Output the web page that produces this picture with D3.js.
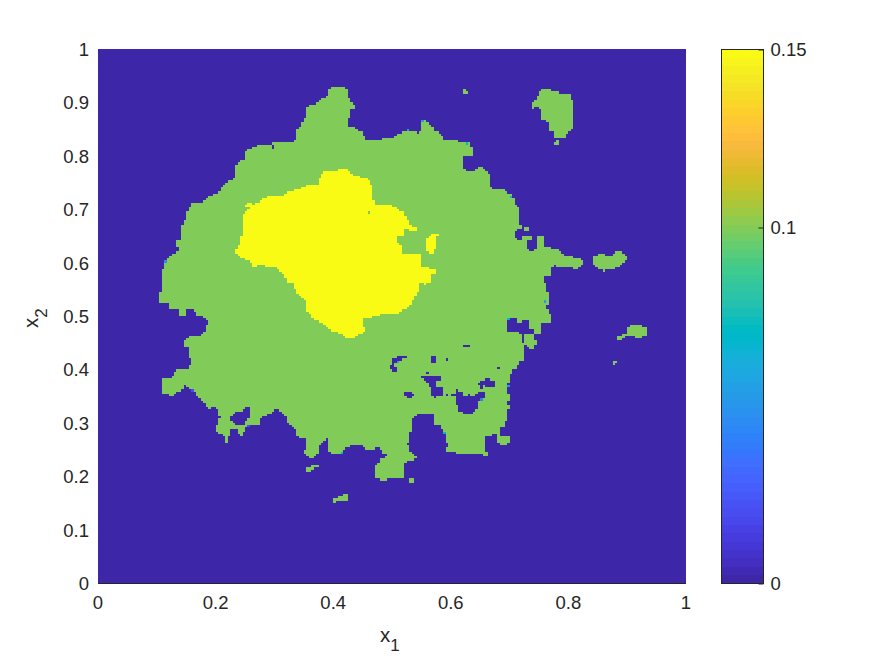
<!DOCTYPE html>
<html><head><meta charset="utf-8">
<script src="https://cdn.jsdelivr.net/npm/d3@7"></script>
<style>html,body{margin:0;padding:0;background:#fff}svg{display:block}text{font-family:"Liberation Sans",Arial,sans-serif;fill:#262626}</style>
</head><body><div id="c"></div>
<script>
// Colormap (parula, 64 levels)
const parula=[[.2422,.1504,.6603],[.2504,.165,.7076],[.2578,.1818,.7511],[.2647,.1978,.7952],[.2706,.2147,.8364],[.2751,.2342,.871],[.2783,.2559,.8991],[.2803,.2782,.9221],[.2813,.3006,.9414],[.281,.3228,.9579],[.2795,.3447,.9717],[.276,.3667,.9829],[.2699,.3892,.9906],[.2602,.4123,.9952],[.244,.4358,.9988],[.2206,.4603,.9973],[.1963,.4847,.9892],[.1834,.5074,.9798],[.1786,.5289,.9682],[.1764,.5499,.952],[.1687,.5703,.9359],[.154,.5902,.9218],[.146,.6091,.9079],[.138,.6276,.8973],[.1248,.6459,.8883],[.1113,.6635,.8763],[.0952,.6798,.8598],[.0689,.6948,.8394],[.0297,.7082,.8163],[.0036,.7203,.7917],[.0067,.7312,.766],[.0433,.7411,.7394],[.0964,.75,.712],[.1408,.7584,.6842],[.1717,.767,.6554],[.1938,.7758,.6251],[.2161,.7843,.5923],[.247,.7918,.5567],[.2906,.7973,.5188],[.3406,.8008,.4789],[.3909,.8029,.4354],[.4456,.8024,.3909],[.5044,.7993,.348],[.5616,.7942,.3045],[.6174,.7876,.2612],[.672,.7793,.2227],[.7242,.7698,.191],[.7738,.7598,.1646],[.8203,.7498,.1535],[.8634,.7406,.1596],[.9035,.733,.1774],[.9393,.7288,.21],[.9728,.7298,.2394],[.9956,.7434,.2371],[.997,.7659,.2199],[.9952,.7861,.199],[.9892,.8134,.176],[.9786,.8386,.1626],[.9676,.8639,.1489],[.961,.889,.1537],[.9597,.9135,.1423],[.9628,.9373,.1265],[.9691,.9606,.1064],[.9769,.9839,.0805]];

// Axis ticks
const xTicks=[0,.2,.4,.6,.8,1];
const yTicks=[0,.1,.2,.3,.4,.5,.6,.7,.8,.9,1];
const cbTicks=[0,.1,.15];

// Field levels
const LOW=0, MID=.1, HIGH=.15;

// Region outlines, as [x1,x2] in units of 1/294 and 1/267 of the unit square
const traceX=294, traceY=267;
const midMain=[[31,145],[32,146.5],[32,155],[33.5,160.5],[37.5,165],[40.5,165.5],[40.5,168.5],[39,168.5],[39,171.5],[42,171.5],[42,179],[43.5,181.5],[45,186.5],[47,190.5],[53,190.5],[55,193],[60,195.5],[63.5,200],[68,202.5],[69,208.5],[71,211.5],[73.5,212],[73.5,215.5],[78,218],[81.5,219],[86.5,219],[86.5,220],[97.5,220],[99,221.5],[99,225.5],[101.5,229],[103.5,232.5],[104.5,237.5],[106,239],[109.5,240],[112,242],[114.5,243],[116,248],[122,248],[124.5,247],[125.5,243],[126.5,240.5],[129,239],[129,237.5],[126.5,237],[126.5,232.5],[125.5,232.5],[125.5,228.5],[127.5,228],[130,226.5],[132.5,225],[133.5,221.5],[134.5,221],[142.5,221],[142.5,222],[148.5,222],[148.5,224],[152,225.5],[158.5,226],[159,225],[161,225],[162,230.5],[163.5,231],[167,229],[168,226],[170.5,225.5],[172.5,222.5],[173.5,221],[179.5,221],[179.5,219],[180.5,220],[186.5,220],[186.5,218],[187.5,218],[187.5,214.5],[186.5,213.5],[182,213.5],[182,210],[183,207],[185,205.5],[188.5,205.5],[190,208.5],[192,208],[194,206.5],[195.5,205],[196.5,198],[198,197],[202.5,197],[205,195],[207,195],[208,190.5],[209.5,188.5],[210.5,188.5],[210.5,180],[211.5,179.5],[211.5,177.5],[209.5,176],[208,175],[208,173],[209.5,171.5],[211.5,171.5],[211.5,173],[213,174],[216.5,174],[216.5,171.5],[214.5,171.5],[214.5,167.5],[216.5,165.5],[219.5,167.5],[222.5,168.5],[226.5,167.5],[229.5,166.5],[232,164.5],[233,163.5],[238,163.5],[238.5,162.5],[241,162.5],[242.5,161],[242.5,159],[239.5,158],[239.5,157],[238,157],[238,158],[229,158],[228,159],[226.5,158],[226.5,154],[223,153],[223,151],[224.5,150],[224.5,146.5],[225.5,144.5],[225.5,142],[224.5,138],[225.5,135],[226.5,135],[226.5,130],[222,130],[222,126.5],[221,124.5],[217.5,124.5],[218.5,123.5],[218.5,121.5],[219.5,121],[219.5,119.5],[217.5,119],[217.5,116.5],[215,117.5],[213,120],[213,111.5],[210.5,111],[209.5,107],[207,106],[206,104.5],[205,99],[205,95],[206,92.5],[205,91.5],[205,89],[206,89],[206,87.5],[205,87],[205,81.5],[203.5,81],[203.5,77.5],[201.5,77.5],[201.5,75],[200,74.5],[193.5,73.5],[193.5,66],[195,65],[194,63],[192,64],[190,65],[186.5,64],[183,65],[182,64],[179.5,64],[178.5,65.5],[175,66],[173.5,65],[173.5,67],[175,67.5],[175,70],[173.5,70],[173.5,75],[172.5,76.5],[171.5,78.5],[168,78.5],[168,80.5],[167,82.5],[168,84],[164,84],[160,85],[158.5,83],[156.5,81],[156.5,76.5],[155.5,75],[155.5,70],[154,69.5],[155.5,69],[155.5,66],[159,63.5],[159,62.5],[157,61],[155.5,62],[153,60],[153,52.5],[145,52.5],[145,51.5],[140.5,51.5],[140.5,52.5],[139,52.5],[139,56.5],[138,57.5],[139,59.5],[140.5,60],[140.5,62.5],[142.5,62.5],[144,64],[142,65],[141.5,67],[140.5,68],[138,68],[138,67],[134.5,67],[132.5,68],[131,69],[127,69],[124.5,67.5],[122.5,67],[121,65],[116,65],[115,66],[115,69],[116,70],[115,72.5],[114,72.5],[114,71],[111.5,70.5],[110.5,68],[110.5,65.5],[109.5,64],[107.5,62.5],[106,62.5],[103.5,64],[103.5,67],[104.5,67],[104.5,71],[103.5,72.5],[99,73],[99,76.5],[97,78],[95.5,79],[94.5,80.5],[94.5,83.5],[93,84],[91,86],[88.5,87],[87,85],[84,83.5],[81.5,82.5],[80.5,79.5],[76,78.5],[73.5,77.5],[72.5,75],[71.5,73.5],[70,74.5],[70,76.5],[66.5,76.5],[66.5,75],[65.5,73],[65.5,70],[64.5,70],[63.5,71.5],[63.5,73],[62,74.5],[61,75],[58.5,75.5],[58.5,78],[60,79],[60,81.5],[61,82.5],[60,84],[60,87],[57.5,88],[56.5,87],[54,88],[53,90.5],[51,92.5],[48.5,95],[48.5,96],[45.5,97],[43.5,98.5],[41.5,96.5],[39,95],[38,93.5],[35.5,93],[35.5,94.5],[32,94.5],[32,102.5],[37,102.5],[38,105.5],[39.5,107],[45,107],[45,109],[46,109.5],[46,112],[45,112.5],[45,117.5],[42.5,119],[42.5,120.5],[44.5,122.5],[47,123.5],[50.5,123.5],[52.5,125],[54,127],[54,129],[55,130],[54,131.5],[52,133],[49.5,133],[48.5,135],[48,137],[45,137],[43.5,135.5],[43.5,134],[40.5,134],[40.5,137],[35.5,137],[35.5,139.5],[33.5,140.5],[31,140.5]];
const midIslandNE=[[216.5,240],[218.5,241.5],[219.5,243.5],[221,245.5],[222,247],[226.5,247],[227,246],[230,246],[230,245],[236,245],[236,241],[237,241],[238,239],[238,229],[237,226.5],[236,225.5],[234.5,225],[234.5,223],[228,223],[228,225.5],[225.5,226.5],[225.5,228],[224.5,230.5],[222,231.5],[222,236.5],[219.5,238],[217.5,239],[217.5,237.5],[216.5,237.5]];
const midIslandE=[[247.5,163.5],[249.5,163.5],[249.5,164.5],[254,164.5],[254,163.5],[255.5,163],[256.5,163],[259,165.5],[262.5,165.5],[262.5,164.5],[264.5,163.5],[264.5,161.5],[262.5,160],[262.5,159],[259,158],[259,157],[254,157],[254,156],[252,156],[252,157],[249.5,157],[248.5,159],[247.5,159.5]];
const midIslandSE=[[260,123.5],[262.5,123.5],[262.5,124.5],[264.5,124.5],[264.5,128],[266,129],[271.5,129],[271.5,128],[274,128],[275,126],[275,124.5],[272.5,123.5],[272.5,122.5],[268,122.5],[268,123.5],[264.5,123.5],[262.5,122.5],[262.5,121.5],[260,121.5]];
const midIslandS1=[[104.5,55.5],[104.5,57.5],[106,57.5],[106,58.5],[108,58.5],[108,59.5],[109,59.5],[109,58.5],[110.5,58.5],[110.5,57.5],[108,57.5],[107,56.5],[107,55.5]];
const midIslandS2=[[117.5,40],[117.5,42],[119.5,42],[119.5,43],[121,43],[122,44],[122,45],[125.5,45],[125.5,42],[124.5,41],[118.5,41],[118.5,40]];
const midCape=[[200,74.5],[201.5,74.5],[201.5,73.5],[205,73.5],[206,72.5],[206,71],[205,70.5],[205,69],[201.5,69],[200,70.5]];
const midSpecks=[[[228,219],[228,220],[229,220],[229,221],[230,221],[230,219]],[[182,245],[182,246],[183,246],[183,247],[184,247],[184,246],[185,246],[185,245]],[[257.5,111],[260,111],[260,110.5],[259,110],[259,109],[257.5,109]],[[213,176],[215,176],[215,177.5],[213,177.5]],[[219.5,167.5],[223,167.5],[223,173],[219.5,173]],[[156,50],[158,50],[158,52],[156,52]]];

const lowHoles=[
[[205,125.5],[205,131],[206,131],[206,132],[209.5,132],[209.5,130],[211.5,130],[211.5,131],[215,131],[215,128],[217.5,126.5],[218.5,125.5],[217.5,124.5],[213,124.5],[213,120],[211.5,121.5],[211.5,124],[210.5,124.5],[210.5,125.5]],
[[146,107],[146,109],[147.5,109],[147.5,112],[149.5,112],[149.5,113],[153,113],[153,114],[154,114],[154,112],[152,112],[152,111],[149,110.5],[148.5,109],[149.5,107],[149.5,106],[147.5,106],[147.5,107]],
[[167,110],[169,110],[169,113],[167,113]],
[[173.5,111],[175,111],[175,112],[173.5,112]],
[[183,117.5],[186.5,117.5],[186.5,119.5],[183,119.5]],
[[200,107],[201.5,107],[201.5,108],[200,108]],
[[164.5,104.5],[165.5,104.5],[165.5,106],[164.5,106]],
[[160,101.5],[161,101.5],[161,102.5],[160,102.5]],
[[162,103.5],[171.5,103.5],[171.5,101.5],[169,100.5],[169,98.5],[171.5,98],[172.5,97.5],[172.5,93],[169,93],[169,92],[168,92],[168,93],[165.5,94.5],[167,95.5],[167,97.5],[165.5,98],[165.5,100],[163.5,101],[163.5,102],[162,102]],
[[153,95.5],[156.5,95.5],[156.5,94.5],[157.5,94.5],[157.5,93],[156.5,93],[156.5,92],[154,92],[154,93],[153,93]],
[[173.5,93],[175,93],[175,94.5],[173.5,94.5]],
[[177,94.5],[178.5,94.5],[178.5,96.5],[180.5,96.5],[180.5,95.5],[182,95.5],[182,93],[185,93],[185,94.5],[186.5,94.5],[186.5,93],[188.5,93],[188.5,94.5],[191,95.5],[193.5,95.5],[193.5,92.5],[191,92],[190,90],[190,87.5],[188.5,87],[187.5,85],[183,85],[183,86],[180.5,86],[180.5,89],[178.5,89],[178.5,93],[177,93]],
[[190,100.5],[191,100.5],[191,101.5],[193.5,101.5],[193.5,102.5],[196.5,102.5],[196.5,101.5],[198,101.5],[198,97.5],[193.5,97.5],[193.5,98.5],[192,98.5],[192,96.5],[191,96.5],[191,99.5],[190,99.5]],
[[65.5,81.5],[68,84.5],[70,85.5],[73.5,87],[75,88],[76,86.5],[76,82.5],[73.5,81.5],[73.5,79.5],[69,78.5],[69,80]],
[[86.5,217],[88.5,217],[88.5,219],[86.5,219]]
];

const highMain=[[69,166.5],[70,168.5],[71.5,169],[71.5,173],[72.5,178],[72.5,183.5],[73.5,185.5],[75.5,187.5],[73.5,188],[73.5,189],[76,190.5],[78,189.5],[80.5,190],[81.5,191.5],[84.5,193],[87.5,194],[88.5,195],[88.5,193.5],[93,193.5],[93,195],[96.5,196],[100,197],[103.5,198.5],[109.5,199],[110.5,202],[113,205.5],[119.5,205.5],[119.5,206.5],[124.5,206.5],[127,204],[131,203],[133.5,202.5],[136,200.5],[137,199],[137,193],[139,189.5],[146,189.5],[148.5,188],[149.5,186.5],[153,186],[154,182],[155.5,181.5],[155.5,179],[159,178],[159,176],[156.5,175],[155.5,176.5],[153,176.5],[153,174.5],[152,173],[149.5,173],[149.5,170],[152,169.5],[152,165.5],[153,164.5],[162,164.5],[162,158],[167,157],[169,157],[169,155],[167,154],[166.5,151],[164.5,149.5],[163.5,148.5],[163.5,150],[161,150],[160,148],[160,145.5],[159,145],[158.5,142.5],[156.5,140],[155.5,138],[153,137],[150.5,135],[140.5,134],[137,133],[132.5,132],[132.5,130],[133.5,125.5],[130,124.5],[129,122.5],[124.5,122.5],[121,125],[117.5,125.5],[116,127],[113.5,129],[110.5,130.5],[108,132],[106,134],[104.5,136.5],[103.5,141.5],[102,142.5],[99,145],[98,150],[95,150.5],[93.5,153],[92,155],[90,156.5],[88.5,158],[85,158],[81.5,159],[78,158],[76,161],[73.5,161.5],[71.5,163],[69,165]];
const highBlob=[[168,175],[170.5,175],[169,173],[169,170],[168,165],[165.5,165],[164.5,166.5],[163.5,168],[164.5,171.5],[165.5,173],[167,174]];
const midInHigh=[[134.5,184.5],[136.5,184.5],[136.5,186],[134.5,186]];

// Single transitional cells on region edges: x1, x2 (same units), value
const edgeCells=[[162.5,231,.05],[155,226.5,.05],[184,220,.07],[207,193,.06],[33.5,160.5,.045],[47.5,96,.02],[75.5,78,.02],[121.5,65.5,.07],[150,110.5,.055],[223.5,141,.05],[205.5,131.5,.07],[205.5,99,.05],[191.5,91.5,.04],[173,75,.07]];

// Grid resolution of the field
const gridN=240;

// ---- layout
const W=875,H=656;
const x=d3.scaleLinear().domain([0,1]).range([98,686]);
const y=d3.scaleLinear().domain([0,1]).range([583,49]);
const cy=d3.scaleLinear().domain([0,.15]).range([583,49]);
const color=d3.scaleQuantize().domain([0,.15]).range(parula.map(c=>d3.rgb(c[0]*255,c[1]*255,c[2]*255).formatHex()));

const svg=d3.select("#c").append("svg").attr("width",W).attr("height",H);

// ---- rasterise the outlined regions onto the grid
const toUnit=p=>p.map(d=>[d[0]/traceX,d[1]/traceY]);
const mids=[midMain,midIslandNE,midIslandE,midIslandSE,midIslandS1,midIslandS2,midCape,...midSpecks].map(toUnit);
const holes=lowHoles.map(toUnit);
const highs=[highMain,highBlob].map(toUnit);
const midIn=toUnit(midInHigh);
const inAny=(ps,p)=>ps.some(q=>d3.polygonContains(q,p));
const field=d3.range(gridN).map(l=>d3.range(gridN).map(k=>{
  const p=[(k+.5)/gridN,(l+.5)/gridN];
  let v=LOW;
  if(inAny(mids,p)) v=MID;
  if(inAny(holes,p)) v=LOW;
  if(inAny(highs,p)) v=HIGH;
  if(d3.polygonContains(midIn,p)) v=MID;
  return v;
}));
edgeCells.forEach(([a,b,v])=>{
  const k=Math.floor(a/traceX*gridN), l=Math.floor(b/traceY*gridN);
  field[l][k]=v;
});
const runs=[];
field.forEach((row,l)=>{
  let s=0;
  for(let k=1;k<=gridN;k++){
    if(k===gridN||row[k]!==row[s]){ runs.push({l,s,e:k,v:row[s]}); s=k; }
  }
});
svg.append("g").attr("shape-rendering","crispEdges").selectAll("rect").data(runs).join("rect")
  .attr("x",d=>x(d.s/gridN)).attr("width",d=>x(d.e/gridN)-x(d.s/gridN))
  .attr("y",d=>y((d.l+1)/gridN)).attr("height",d=>y(d.l/gridN)-y((d.l+1)/gridN))
  .attr("fill",d=>color(d.v));

// ---- axes
const fmt=d=>String(+d.toFixed(2));
const xa=svg.append("g").attr("transform",`translate(-0.5,${y(0)})`)
  .call(d3.axisBottom(x).tickValues(xTicks).tickSize(0).tickPadding(13).tickFormat(fmt));
xa.select(".domain").attr("stroke","#262626");
const ya=svg.append("g").attr("transform",`translate(${x(0)},0.5)`)
  .call(d3.axisLeft(y).tickValues(yTicks).tickSize(0).tickPadding(9).tickFormat(fmt));
ya.select(".domain").remove();
svg.selectAll("g.tick text").style("font-family",'"Liberation Sans",Arial,sans-serif').style("font-size","18.5px").attr("fill","#262626");

// ---- axis labels
const lab=(t,sub)=>{t.append("tspan").text("x");t.append("tspan").attr("dy",9).attr("dx",0).style("font-size","17px").text(sub);};
svg.append("text").attr("x",380).attr("y",642).style("font-size","20.5px").call(lab,"1");
svg.append("text").attr("transform","translate(38,328) rotate(-90)").style("font-size","20.5px").call(lab,"2");

// ---- colorbar
const cbL=721.5,cbR=763.5;
const levels=d3.range(parula.length);
const cLevel=d3.scaleBand().domain(levels).range([583,49]);
svg.append("g").attr("shape-rendering","crispEdges").selectAll("rect").data(levels).join("rect")
  .attr("x",cbL).attr("width",cbR-cbL)
  .attr("y",d=>cLevel(d)).attr("height",cLevel.bandwidth()+.5)
  .attr("fill",(d,i)=>color.range()[i]);
svg.append("rect").attr("x",cbL).attr("y",49.5).attr("width",cbR-cbL).attr("height",534)
  .attr("fill","none").attr("stroke","#262626").attr("stroke-width",1);
const cb=svg.append("g").attr("transform",`translate(${cbR},0.5)`)
  .call(d3.axisRight(cy).tickValues(cbTicks).tickSize(-5).tickPadding(7).tickFormat(fmt));
cb.select(".domain").remove();
cb.selectAll("line").attr("stroke","#262626");
cb.selectAll("text").style("font-size","18.5px").style("font-family",'"Liberation Sans",Arial,sans-serif').attr("fill","#262626");
</script></body></html>
